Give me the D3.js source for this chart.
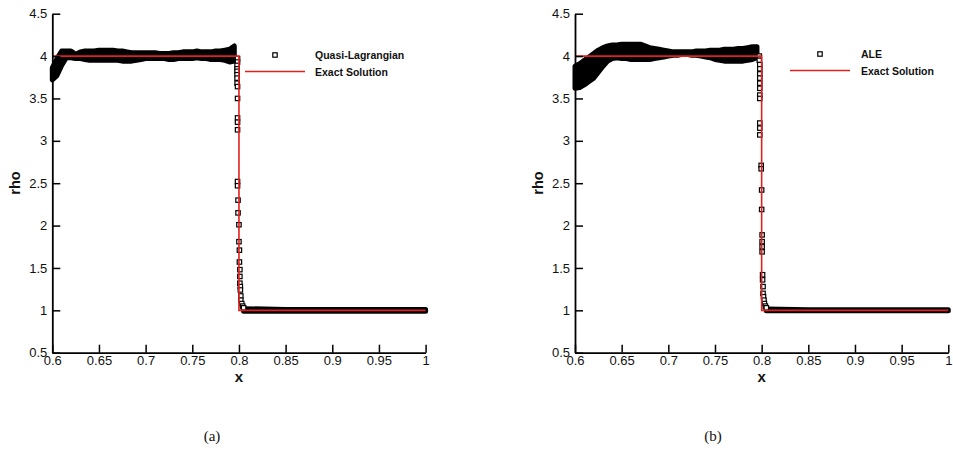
<!DOCTYPE html>
<html>
<head>
<meta charset="utf-8"/>
<title>rho profiles</title>
<script src="https://cdn.jsdelivr.net/npm/d3@7"></script>
<style>
    body {margin:0; background:white;}
    svg {display:block;}
    .tick text {font-family:"Liberation Sans", Arial, Helvetica, sans-serif; font-size:13px; fill:#111;}
    .lbl {font-family:"Liberation Sans", Arial, Helvetica, sans-serif; font-weight:bold; fill:#111;}
    .cap {font-family:"Liberation Serif", "Times New Roman", serif; font-size:15px; fill:#111;}
</style>
</head>
<body>
<svg id="canvas" width="953" height="451"></svg>
<script>

// axis ticks
var xTicks = [0.6, 0.65, 0.7, 0.75, 0.8, 0.85, 0.9, 0.95, 1]
var yTicks = [0.5, 1, 1.5, 2, 2.5, 3, 3.5, 4, 4.5]

// exact solution
var exactX = [0.6, 0.8, 0.8, 1.0]
var exactRho = [4, 4, 1, 1]

// plateau behind the shock: x positions, upper / lower spread of the scatter
var plateauX = [0.600,0.605,0.610,0.615,0.620,0.625,0.630,0.635,0.640,0.645,
                0.650,0.655,0.660,0.665,0.670,0.675,0.680,0.685,0.690,0.695,
                0.700,0.705,0.710,0.715,0.720,0.725,0.730,0.735,0.740,0.745,
                0.750,0.755,0.760,0.765,0.770,0.775,0.780,0.785,0.790,0.795]

var qlHi = [3.86,3.97,4.06,4.06,4.06,4.02,4.05,4.06,4.06,4.06,
            4.07,4.07,4.07,4.07,4.06,4.06,4.05,4.04,4.04,4.04,
            4.04,4.04,4.04,4.03,4.03,4.03,4.04,4.04,4.05,4.05,
            4.05,4.06,4.05,4.05,4.05,4.06,4.06,4.07,4.08,4.12]
var qlLo = [3.72,3.77,3.89,3.98,3.98,3.97,3.97,3.96,3.95,3.95,
            3.95,3.95,3.95,3.95,3.95,3.94,3.94,3.94,3.95,3.96,
            3.97,3.97,3.97,3.97,3.97,3.96,3.96,3.97,3.97,3.97,
            3.97,3.98,3.97,3.97,3.96,3.96,3.96,3.95,3.93,3.94]

var aleHi = [3.88,3.91,3.95,3.99,4.03,4.07,4.10,4.12,4.13,4.13,
             4.14,4.14,4.14,4.14,4.14,4.12,4.10,4.09,4.08,4.07,
             4.06,4.05,4.05,4.05,4.05,4.05,4.06,4.06,4.06,4.07,
             4.07,4.07,4.08,4.08,4.08,4.09,4.09,4.10,4.11,4.11]
var aleLo = [3.62,3.63,3.66,3.70,3.74,3.81,3.88,3.94,3.97,3.98,
             3.97,3.97,3.96,3.96,3.96,3.96,3.96,3.97,3.98,3.99,
             4.00,4.01,4.01,4.02,4.02,4.01,4.01,4.00,3.99,3.98,
             3.96,3.95,3.94,3.94,3.94,3.94,3.94,3.95,3.96,3.98]

// points inside the shock
var qlShockX = [0.7985,0.7985,0.798,0.798,0.798,0.798,0.798,0.798,0.7985,0.7985,
                0.7985,0.7985,0.7985,0.7985,0.7985,0.799,0.799,0.800,0.800,0.8005,
                0.8005,0.801,0.801,0.801,0.8015,0.8015,0.802,0.802,0.803,0.804,0.805]
var qlShockRho = [3.97,3.93,3.89,3.85,3.82,3.78,3.74,3.68,3.64,3.50,
                  3.27,3.22,3.13,2.52,2.47,2.30,2.15,2.01,1.81,1.71,
                  1.57,1.48,1.40,1.32,1.28,1.24,1.17,1.12,1.08,1.05,1.03]

var aleShockX = [0.7975,0.7975,0.798,0.798,0.798,0.798,0.798,0.798,0.798,0.798,
                 0.798,0.798,0.798,0.7995,0.7995,0.800,0.800,0.8005,0.8005,0.8005,
                 0.8005,0.801,0.801,0.8015,0.8015,0.802,0.8025,0.803,0.804,0.805]
var aleShockRho = [4.00,3.95,3.90,3.85,3.79,3.74,3.68,3.62,3.54,3.50,
                   3.21,3.15,3.07,2.71,2.67,2.42,2.19,1.89,1.81,1.75,
                   1.69,1.42,1.36,1.28,1.20,1.16,1.12,1.08,1.05,1.03]

// state ahead of the shock
var postX = [0.805, 0.85, 0.9, 0.95, 1.0]
var qlPostHi = [1.02, 1.01, 1.01, 1.01, 1.01]
var qlPostLo = [0.99, 0.99, 0.99, 0.99, 0.99]
var alePostHi = [1.015, 1.006, 1.006, 1.006, 1.006]
var alePostLo = [0.994, 0.994, 0.994, 0.994, 0.994]

var RED = "#e0211d"
var svg = d3.select("#canvas")

function drawPanel(p) {
    var x = d3.scaleLinear([0.6, 1], [p.x0, p.x1])
    var y = d3.scaleLinear([0.5, 4.5], [352.7, 13.7])
    var g = svg.append("g")

    // scatter band (dense squares overlap into a solid band)
    var band = d3.area()
        .x(i => x(p.bx[i]))
        .y0(i => y(p.lo[i]))
        .y1(i => y(p.hi[i]))
    g.append("path")
        .attr("d", band(d3.range(p.bx.length)))
        .attr("fill", "black").attr("stroke", "black")
        .attr("stroke-width", 5).attr("stroke-linejoin", "round")
    var post = d3.area()
        .x(i => x(p.px[i]))
        .y0(i => y(p.plo[i]))
        .y1(i => y(p.phi[i]))
    g.append("path")
        .attr("d", post(d3.range(p.px.length)))
        .attr("fill", "black").attr("stroke", "black")
        .attr("stroke-width", 5).attr("stroke-linejoin", "round")

    // single markers in the shock
    g.selectAll("rect.m")
        .data(d3.range(p.sx.length))
        .enter().append("rect")
        .attr("x", i => x(p.sx[i]) - 2.2)
        .attr("y", i => y(p.sr[i]) - 2.2)
        .attr("width", 4.4).attr("height", 4.4)
        .attr("fill", "white").attr("stroke", "black").attr("stroke-width", 1.2)

    // exact solution
    var line = d3.line().x(i => x(exactX[i])).y(i => y(exactRho[i]))
    g.append("path")
        .attr("d", line(d3.range(exactX.length)))
        .attr("fill", "none").attr("stroke", RED).attr("stroke-width", 1.6)

    // axes
    g.append("g").attr("transform", "translate(0,352.7)")
        .call(d3.axisBottom(x).tickValues(xTicks).tickSize(-8).tickSizeOuter(0)
              .tickPadding(3).tickFormat(d => String(d)))
    g.append("g").attr("transform", "translate(" + p.x0 + ",0)")
        .call(d3.axisLeft(y).tickValues(yTicks).tickSize(-8).tickSizeOuter(0)
              .tickPadding(5).tickFormat(d => String(d)))
    g.selectAll(".domain").attr("stroke", "black").attr("stroke-width", 1.8)
    g.selectAll(".tick line").attr("stroke", "black").attr("stroke-width", 1.5)

    g.append("text").attr("class", "lbl").attr("font-size", 15)
        .attr("x", x(0.8)).attr("y", 382).attr("text-anchor", "middle").text("x")
    g.append("text").attr("class", "lbl").attr("font-size", 14.5)
        .attr("transform", "translate(" + (p.x0 - 32) + ",183) rotate(-90)")
        .attr("text-anchor", "middle").text("rho")

    // legend
    g.append("rect")
        .attr("x", p.lx - 2.2).attr("y", p.ly - 2.2)
        .attr("width", 4.4).attr("height", 4.4)
        .attr("fill", "white").attr("stroke", "black").attr("stroke-width", 1.2)
    g.append("line")
        .attr("x1", p.lx - 30).attr("x2", p.lx + 30)
        .attr("y1", p.ly + 16.5).attr("y2", p.ly + 16.5)
        .attr("stroke", RED).attr("stroke-width", 1.6)
    g.append("text").attr("class", "lbl").attr("font-size", 10.5)
        .attr("x", p.tx).attr("y", p.ly + 4).text(p.name)
    g.append("text").attr("class", "lbl").attr("font-size", 10.5)
        .attr("x", p.tx).attr("y", p.ly + 20.5).text("Exact Solution")

    g.append("text").attr("class", "cap")
        .attr("x", p.cx).attr("y", 441).attr("text-anchor", "middle").text(p.caption)
}

drawPanel({x0: 52.3, x1: 425.6, bx: plateauX, hi: qlHi, lo: qlLo,
           px: postX, phi: qlPostHi, plo: qlPostLo, sx: qlShockX, sr: qlShockRho,
           lx: 275, ly: 55, tx: 315, name: "Quasi-Lagrangian", cx: 212, caption: "(a)"})
drawPanel({x0: 575, x1: 948.3, bx: plateauX, hi: aleHi, lo: aleLo,
           px: postX, phi: alePostHi, plo: alePostLo, sx: aleShockX, sr: aleShockRho,
           lx: 820, ly: 54, tx: 861, name: "ALE", cx: 713, caption: "(b)"})

</script>
</body>
</html>
